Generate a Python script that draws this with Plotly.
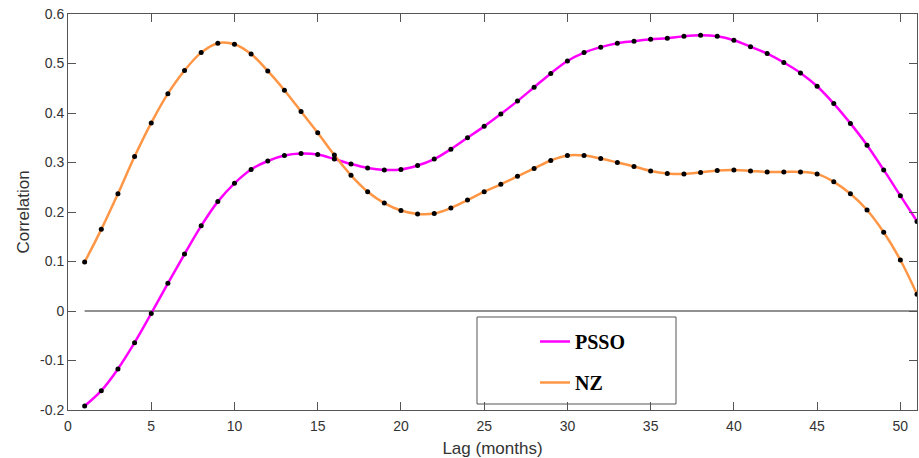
import plotly.graph_objects as go

lags = list(range(1, 52))

psso = [-0.192, -0.161, -0.117, -0.064, -0.005, 0.056, 0.115, 0.172, 0.221, 0.258,
        0.286, 0.303, 0.314, 0.318, 0.316, 0.307, 0.297, 0.289, 0.285, 0.286,
        0.294, 0.307, 0.327, 0.350, 0.373, 0.398, 0.424, 0.452, 0.480, 0.505,
        0.522, 0.533, 0.541, 0.545, 0.549, 0.551, 0.555, 0.557, 0.555, 0.547,
        0.534, 0.520, 0.502, 0.481, 0.454, 0.419, 0.379, 0.335, 0.285, 0.233,
        0.181]

nz = [0.099, 0.165, 0.237, 0.312, 0.380, 0.439, 0.486, 0.522, 0.541, 0.539,
      0.519, 0.485, 0.446, 0.403, 0.360, 0.315, 0.274, 0.241, 0.218, 0.203,
      0.196, 0.197, 0.208, 0.224, 0.241, 0.256, 0.272, 0.288, 0.304, 0.314,
      0.314, 0.308, 0.300, 0.292, 0.283, 0.278, 0.277, 0.280, 0.284, 0.285,
      0.283, 0.281, 0.281, 0.281, 0.277, 0.261, 0.237, 0.204, 0.159, 0.103,
      0.034]

zero_x = [1, 51]
zero_y = [0, 0]

x_ticks = [0, 5, 10, 15, 20, 25, 30, 35, 40, 45, 50]
y_ticks = [-0.2, -0.1, 0, 0.1, 0.2, 0.3, 0.4, 0.5, 0.6]
y_tick_labels = ["-0.2", "-0.1", "0", "0.1", "0.2", "0.3", "0.4", "0.5", "0.6"]

fig = go.Figure()

fig.add_trace(go.Scatter(x=zero_x, y=zero_y, mode="lines",
                         line=dict(color="#222222", width=1), showlegend=False,
                         hoverinfo="skip"))

fig.add_trace(go.Scatter(x=lags, y=psso, mode="lines", name="<b>PSSO</b>",
                         line=dict(color="#FF00FF", width=2.5, shape="spline"),
                         legendgroup="a"))
fig.add_trace(go.Scatter(x=lags, y=nz, mode="lines", name="<b>NZ</b>",
                         line=dict(color="#FF9645", width=2.5, shape="spline"),
                         legendgroup="b"))
fig.add_trace(go.Scatter(x=lags, y=psso, mode="markers", showlegend=False,
                         marker=dict(color="black", size=5)))
fig.add_trace(go.Scatter(x=lags, y=nz, mode="markers", showlegend=False,
                         marker=dict(color="black", size=5)))

axis_common = dict(showline=True, linecolor="#555555", linewidth=1, mirror="ticks",
                   ticks="inside", ticklen=8, tickcolor="#555555", showgrid=False,
                   zeroline=False,
                   tickfont=dict(family="Liberation Sans, Arial", size=14, color="#333333"))

fig.update_xaxes(range=[0, 51], tickvals=x_ticks, ticklabelstandoff=3,
                 title=dict(text="Lag (months)", standoff=10,
                            font=dict(family="Liberation Sans, Arial", size=17, color="#333333")),
                 **axis_common)
fig.update_yaxes(range=[-0.2, 0.6], tickvals=y_ticks, ticktext=y_tick_labels,
                 title=dict(text="Correlation", standoff=6,
                            font=dict(family="Liberation Sans, Arial", size=17, color="#333333")),
                 **axis_common)

fig.add_shape(type="rect", xref="paper", yref="paper",
              x0=(477 - 68) / 849, x1=(676 - 68) / 849,
              y0=(410 - 404) / 396, y1=(410 - 317) / 396,
              line=dict(color="#555555", width=1), fillcolor="white", layer="below")

fig.update_layout(
    width=919, height=458,
    margin=dict(l=68, r=2, t=14, b=48),
    paper_bgcolor="white", plot_bgcolor="white",
    legend=dict(x=(535 - 68) / 849, y=(410 - 322) / 396, xanchor="left", yanchor="top",
                bgcolor="rgba(0,0,0,0)", borderwidth=0, traceorder="grouped",
                tracegroupgap=12,
                font=dict(family="Liberation Serif, Times New Roman", size=20, color="black")),
    showlegend=True,
)

fig.write_html("out.html")
